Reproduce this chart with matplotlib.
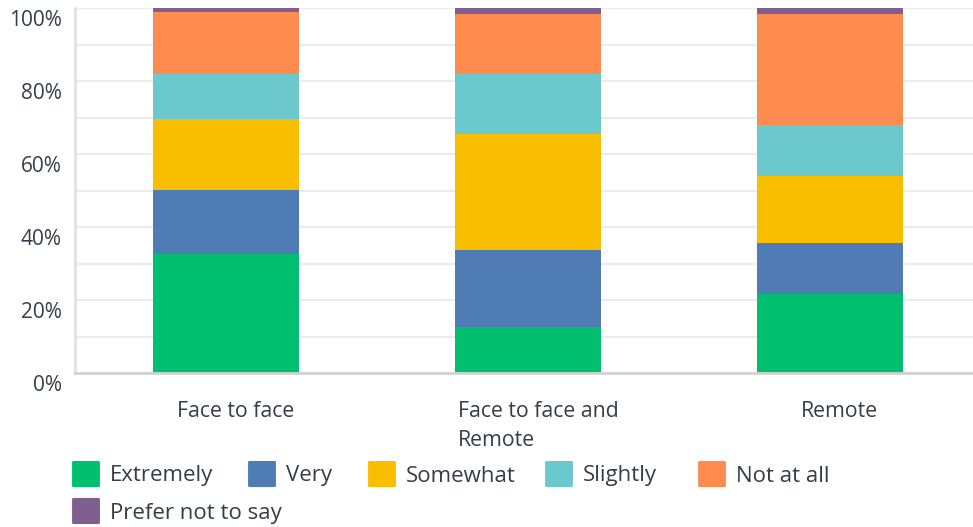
import matplotlib
matplotlib.use("Agg")
import matplotlib.pyplot as plt
import matplotlib.transforms as mtransforms
from matplotlib.patches import FancyBboxPatch
import numpy as np

plt.rcParams["font.family"] = ["Open Sans", "DejaVu Sans"]

categories = ["Face to face", "Face to face and\nRemote", "Remote"]
series = ["Extremely", "Very", "Somewhat", "Slightly", "Not at all", "Prefer not to say"]
extremely = [32.6, 12.6, 21.7]
very = [17.5, 21.2, 13.9]
somewhat = [19.4, 31.8, 18.5]
slightly = [12.5, 16.4, 13.8]
not_at_all = [17.0, 16.4, 30.5]
prefer_not = [1.0, 1.6, 1.6]
values = [extremely, very, somewhat, slightly, not_at_all, prefer_not]
colors = ["#00bf6f", "#507cb6", "#f9be00", "#6bc8cd", "#ff8b4f", "#7f5f90"]
text_color = "#333e48"

fig = plt.figure(figsize=(9.73, 5.27), dpi=100)
ax = fig.add_axes([75 / 973, 154 / 527, 898 / 973, 365 / 527])

x = np.arange(len(categories))
bottom = np.zeros(len(categories))
for vals, color in zip(values, colors):
    ax.bar(x, vals, width=0.483, bottom=bottom, color=color, zorder=2)
    bottom += np.array(vals)

ax.set_xlim(-0.5, 2.474)
ax.set_ylim(0, 100)
ax.set_yticks(np.arange(0, 101, 20))
ax.set_yticks(np.arange(0, 101, 10), minor=True)
ax.set_yticklabels([f"{v}%" for v in range(0, 101, 20)])
ax.grid(axis="y", which="both", color="#ececec", linewidth=1.5, zorder=0)
ax.tick_params(axis="y", which="both", length=0, pad=9.5, labelsize=15, labelcolor=text_color)
ax.tick_params(axis="x", length=0, pad=20, labelsize=15.3, labelcolor=text_color)
ax.set_xticks(x)
ax.set_xticklabels(categories, multialignment="left", linespacing=1.5)

for lab in ax.get_yticklabels():
    lab.set_transform(lab.get_transform() + mtransforms.ScaledTranslation(0, -10 / 100, fig.dpi_scale_trans))
for lab in ax.get_xticklabels():
    lab.set_transform(lab.get_transform() + mtransforms.ScaledTranslation(10 / 100, 0, fig.dpi_scale_trans))
    lab.set_verticalalignment("top")

for side in ["top", "right"]:
    ax.spines[side].set_visible(False)
ax.spines["left"].set_color("#e2e2e2")
ax.spines["left"].set_linewidth(2)
ax.spines["bottom"].set_color("#d2d2d2")
ax.spines["bottom"].set_linewidth(2)

# legend laid out as a flowing row, like the source
legend_pos = [(72, 474), (248, 474), (368, 474), (545, 474), (698, 474), (72, 511)]
W, H = 973, 527
for (px, py), name, color in zip(legend_pos, series, colors):
    box = FancyBboxPatch(((px + 2) / W, (H - py - 12) / H), 24 / W, 24 / H,
                         boxstyle="round,pad=0.002", transform=fig.transFigure,
                         facecolor=color, edgecolor=color, linewidth=0)
    fig.patches.append(box)
    fig.text((px + 38) / W, (H - py - 2) / H, name, fontsize=16, color=text_color,
             va="center", ha="left")

fig.savefig("out.png", dpi=100)
